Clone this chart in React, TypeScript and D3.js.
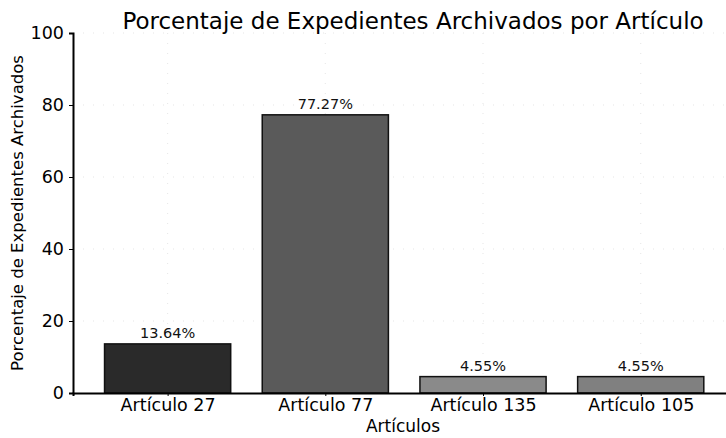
import React, { useRef, useEffect } from "react";
import * as d3 from "d3";

const articulos = ["Artículo 27", "Artículo 77", "Artículo 135", "Artículo 105"];
const porcentajes = [13.64, 77.27, 4.55, 4.55];
const etiquetas = ["13.64%", "77.27%", "4.55%", "4.55%"];
const colores = ["#2a2a2a", "#5a5a5a", "#8a8a8a", "#808080"];
const yTicks = [0, 20, 40, 60, 80, 100];

const App = () => {
  const svgRef = useRef<SVGSVGElement>(null);

  useEffect(() => {
    const svg = d3.select(svgRef.current);
    svg.selectAll("*").remove();

    const W = 726, H = 438;
    const margin = { top: 33, left: 73, bottom: 45 };
    const plotBottom = H - margin.bottom;
    const font = "DejaVu Sans, sans-serif";

    // matplotlib style: bars of width 0.8, 0.6 padding either side
    const step = 157.7;
    const x = d3
      .scaleLinear()
      .domain([-0.6, articulos.length - 1 + 0.6])
      .range([margin.left, margin.left + step * (articulos.length - 1 + 1.2)]);
    const y = d3.scaleLinear().domain([0, 100]).range([plotBottom, margin.top]);

    svg.append("rect").attr("width", W).attr("height", H).attr("fill", "white");

    // faint dashed grid
    const grid = svg.append("g").attr("stroke", "#ccc").attr("stroke-width", 0.8)
      .attr("stroke-dasharray", "1,9").attr("opacity", 0.6);
    yTicks.slice(1).forEach((t) => {
      grid.append("line").attr("x1", margin.left).attr("x2", W)
        .attr("y1", y(t)).attr("y2", y(t));
    });
    articulos.forEach((_, i) => {
      grid.append("line").attr("x1", x(i)).attr("x2", x(i))
        .attr("y1", margin.top).attr("y2", plotBottom);
    });

    // bars
    svg.append("g")
      .selectAll("rect")
      .data(porcentajes)
      .join("rect")
      .attr("x", (_, i) => x(i - 0.4))
      .attr("width", (_, i) => x(i + 0.4) - x(i - 0.4))
      .attr("y", (d) => y(d))
      .attr("height", (d) => plotBottom - y(d))
      .attr("fill", (_, i) => colores[i])
      .attr("stroke", "#111")
      .attr("stroke-width", 1.5);

    // value labels
    svg.append("g")
      .selectAll("text")
      .data(porcentajes)
      .join("text")
      .attr("x", (_, i) => x(i))
      .attr("y", (d) => y(d) - 6)
      .attr("text-anchor", "middle")
      .style("font-family", font)
      .style("font-size", "14.5px")
      .attr("fill", "#111")
      .text((_, i) => etiquetas[i]);

    // y axis
    const yAxis = svg.append("g")
      .attr("transform", `translate(${margin.left},0)`)
      .call(d3.axisLeft(y).tickValues(yTicks).tickSize(4).tickPadding(5));
    yAxis.select(".domain").attr("stroke", "#000").attr("stroke-width", 2);
    yAxis.selectAll("text").style("font-family", font).style("font-size", "17.5px").attr("fill", "#000");

    // x axis
    const xAxis = svg.append("g")
      .attr("transform", `translate(0,${plotBottom})`)
      .call(
        d3.axisBottom(x)
          .tickValues(d3.range(articulos.length))
          .tickFormat((d) => articulos[d as number])
          .tickSize(3)
          .tickPadding(3)
      );
    xAxis.select(".domain").attr("stroke", "#000").attr("stroke-width", 2);
    xAxis.selectAll("text").style("font-family", font).style("font-size", "17.5px").attr("fill", "#000");

    // title & axis labels
    svg.append("text")
      .attr("x", 413)
      .attr("y", 29)
      .attr("text-anchor", "middle")
      .style("font-family", font)
      .style("font-size", "23px")
      .text("Porcentaje de Expedientes Archivados por Artículo");

    svg.append("text")
      .attr("x", 403)
      .attr("y", 432)
      .attr("text-anchor", "middle")
      .style("font-family", font)
      .style("font-size", "17px")
      .text("Artículos");

    svg.append("text")
      .attr("transform", `translate(23, ${(margin.top + plotBottom) / 2}) rotate(-90)`)
      .attr("text-anchor", "middle")
      .style("font-family", font)
      .style("font-size", "16.5px")
      .text("Porcentaje de Expedientes Archivados");
  }, []);

  return (
    <svg
      ref={svgRef}
      width={726}
      height={438}
      style={{ position: "absolute", left: 0, top: 0, display: "block" }}
    ></svg>
  );
};

export default App;
